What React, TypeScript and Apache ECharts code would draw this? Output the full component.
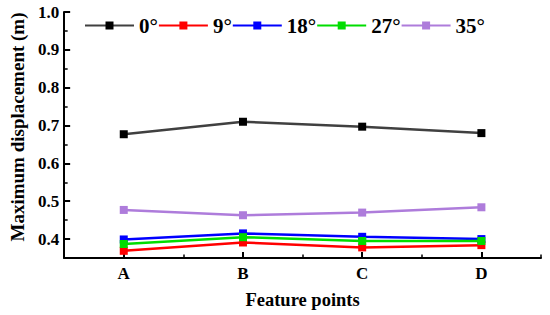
import React, { useEffect, useRef } from "react";
import * as echarts from "echarts";

const categories = ["A", "B", "C", "D"];
const seriesNames = ["0°", "9°", "18°", "27°", "35°"];
const values0 = [0.677, 0.71, 0.697, 0.68];
const values9 = [0.369, 0.391, 0.378, 0.384];
const values18 = [0.399, 0.415, 0.406, 0.4];
const values27 = [0.387, 0.405, 0.395, 0.395];
const values35 = [0.477, 0.463, 0.47, 0.484];
const lineColors = ["#404040", "#FF0000", "#0000FF", "#00DD00", "#AE7CDB"];
const markerColors = ["#000000", "#FF0000", "#0000FF", "#00DD00", "#AE7CDB"];

const FONT = "'Liberation Serif', 'Times New Roman', serif";

export default function App() {
  const ref = useRef<HTMLDivElement>(null);
  useEffect(() => {
    if (!ref.current) return;
    const chart = echarts.init(ref.current, undefined, { renderer: "svg" });
    const allValues = [values0, values9, values18, values27, values35];
    const option: any = {
      animation: false,
      backgroundColor: "#ffffff",
      textStyle: { fontFamily: FONT },
      grid: { left: 52, right: 9, top: 12, bottom: 57, containLabel: false },
      legend: {
        data: seriesNames,
        left: 79,
        top: 10,
        itemWidth: 49,
        itemHeight: 10,
        itemGap: 0,
        textStyle: { fontFamily: FONT, fontWeight: "bold", fontSize: 21, color: "#000" },
      },
      xAxis: [
        {
          type: "category",
          data: categories,
          position: "bottom",
          boundaryGap: true,
          axisLine: { show: true, lineStyle: { color: "#000", width: 2 } },
          axisTick: { show: true, inside: true, alignWithLabel: true, length: 6, lineStyle: { color: "#000", width: 2 } },
          axisLabel: { fontFamily: FONT, fontWeight: "bold", fontSize: 17, color: "#000", margin: 7 },
          name: "Feature points",
          nameLocation: "middle",
          nameGap: 32,
          nameTextStyle: { fontFamily: FONT, fontWeight: "bold", fontSize: 18.5, color: "#000" },
          splitLine: { show: false },
        },
        {
          type: "category",
          data: categories,
          position: "bottom",
          boundaryGap: true,
          axisLine: { show: false },
          axisTick: { show: true, inside: true, length: 3.5, lineStyle: { color: "#000", width: 1.5 } },
          axisLabel: { show: false },
          splitLine: { show: false },
        },
      ],
      yAxis: [
        {
          type: "value",
          min: 0.35,
          max: 1.0,
          splitNumber: 6,
          position: "left",
          axisLine: { show: true, lineStyle: { color: "#000", width: 2 } },
          axisTick: { show: true, inside: true, length: 6, lineStyle: { color: "#000", width: 2 } },
          axisLabel: {
            fontFamily: FONT,
            fontWeight: "bold",
            fontSize: 17,
            color: "#000",
            margin: 5,
            showMinLabel: false,
            formatter: (v: number) => v.toFixed(1),
          },
          splitLine: { show: false },
          name: "Maximum displacement (m)",
          nameLocation: "middle",
          nameGap: 31,
          nameRotate: 90,
          nameTextStyle: {
            fontFamily: FONT,
            fontWeight: "bold",
            fontSize: 19,
            color: "#000",
            padding: [0, 0, 0, 16],
          },
        },
        {
          type: "value",
          min: 0.35,
          max: 1.0,
          interval: 0.05,
          position: "left",
          axisLine: { show: false },
          axisTick: { show: true, inside: true, length: 3.5, lineStyle: { color: "#000", width: 1.5 } },
          axisLabel: { show: false },
          splitLine: { show: false },
        },
      ],
      series: seriesNames.map((name, i) => ({
        name,
        type: "line",
        xAxisIndex: 0,
        yAxisIndex: 0,
        data: allValues[i],
        symbol: "rect",
        symbolSize: 8,
        showSymbol: true,
        lineStyle: { color: lineColors[i], width: 2.5 },
        itemStyle: { color: markerColors[i] },
        z: 2 + i,
      })),
    };
    chart.setOption(option);
    return () => chart.dispose();
  }, []);
  return (
    <div
      ref={ref}
      style={{ position: "fixed", left: 0, top: 0, width: 550, height: 315, background: "#fff" }}
    />
  );
}
